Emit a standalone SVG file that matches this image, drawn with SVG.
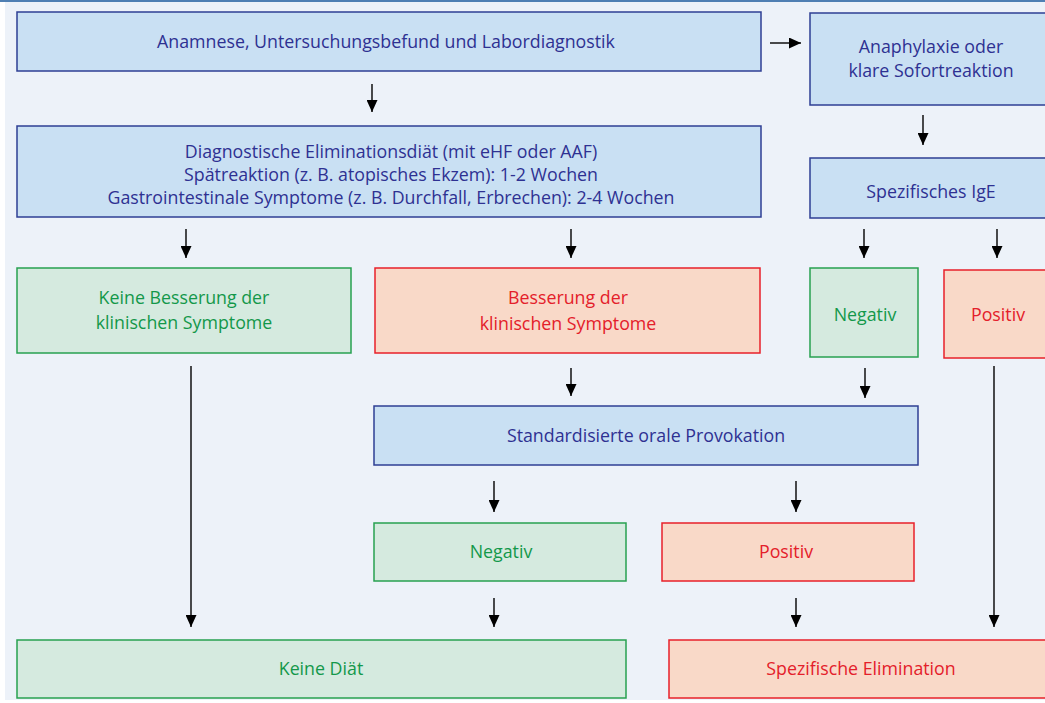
<svg xmlns="http://www.w3.org/2000/svg" width="1045" height="703" viewBox="0 0 1045 703">
<defs>
<marker id="ah" markerWidth="12" markerHeight="11" refX="12" refY="5.5" orient="auto" markerUnits="userSpaceOnUse" viewBox="0 0 12 11">
<path d="M0,0 L12,5.5 L0,11 Z" fill="#000"/>
</marker>
<style>
text{font-family:"Open Sans","Liberation Sans",sans-serif;font-size:17.8px;text-anchor:middle}
.b rect{fill:#c9e0f3;stroke:#2e3f94;stroke-width:1.5}
.b text{fill:#2e3192}
.g rect{fill:#d5eadf;stroke:#27a150;stroke-width:1.5}
.g text{fill:#13984a}
.r rect{fill:#f9d9c8;stroke:#e8202a;stroke-width:1.5}
.r text{fill:#e4202a}
.c line{stroke:#000;stroke-width:1.4;marker-end:url(#ah)}
</style>
</defs>
<rect x="0" y="0" width="1045" height="703" fill="#ffffff"/>
<rect x="5" y="2" width="1040" height="698" fill="#edf2f9"/>
<rect x="0" y="0" width="1045" height="2" fill="#4f7fb3"/>

<g id="n1" class="b"><rect x="17" y="12" width="744" height="59"/><text x="386" y="48">Anamnese, Untersuchungsbefund und Labordiagnostik</text></g>
<g id="n2" class="b"><rect x="810" y="13" width="240" height="92"/><text x="931" y="53">Anaphylaxie oder</text><text x="931" y="77">klare Sofortreaktion</text></g>
<g id="n3" class="b"><rect x="17" y="126" width="744" height="91"/><text x="391" y="158">Diagnostische Eliminationsdiät (mit eHF oder AAF)</text><text x="391" y="181">Spätreaktion (z. B. atopisches Ekzem): 1-2 Wochen</text><text x="391" y="204">Gastrointestinale Symptome (z. B. Durchfall, Erbrechen): 2-4 Wochen</text></g>
<g id="n4" class="b"><rect x="810" y="158" width="240" height="60"/><text x="931" y="198">Spezifisches IgE</text></g>
<g id="n5" class="g"><rect x="17" y="268" width="334" height="85"/><text x="184" y="304">Keine Besserung der</text><text x="184" y="329">klinischen Symptome</text></g>
<g id="n6" class="r"><rect x="375" y="268" width="385" height="85"/><text x="568" y="304">Besserung der</text><text x="568" y="330">klinischen Symptome</text></g>
<g id="n7" class="g"><rect x="810" y="268" width="108" height="89"/><text x="865" y="321">Negativ</text></g>
<g id="n8" class="r"><rect x="944" y="270" width="110" height="88"/><text x="998" y="321">Positiv</text></g>
<g id="n9" class="b"><rect x="374" y="406" width="544" height="59"/><text x="646" y="442">Standardisierte orale Provokation</text></g>
<g id="n10" class="g"><rect x="374" y="523" width="252" height="58"/><text x="501" y="558">Negativ</text></g>
<g id="n11" class="r"><rect x="662" y="523" width="252" height="58"/><text x="786" y="558">Positiv</text></g>
<g id="n12" class="g"><rect x="17" y="640" width="609" height="58"/><text x="321" y="675">Keine Diät</text></g>
<g id="n13" class="r"><rect x="669" y="640" width="390" height="58"/><text x="861" y="675">Spezifische Elimination</text></g>

<g id="connectors" class="c">
<line x1="770" y1="43" x2="801" y2="43"/>
<line x1="372" y1="84" x2="372" y2="112"/>
<line x1="923" y1="115" x2="923" y2="145"/>
<line x1="186" y1="229" x2="186" y2="258"/>
<line x1="571" y1="229" x2="571" y2="258"/>
<line x1="864" y1="229" x2="864" y2="258"/>
<line x1="997" y1="229" x2="997" y2="258"/>
<line x1="191" y1="366" x2="191" y2="627"/>
<line x1="994" y1="366" x2="994" y2="627"/>
<line x1="571" y1="368" x2="571" y2="396"/>
<line x1="865" y1="368" x2="865" y2="398"/>
<line x1="494" y1="481" x2="494" y2="512"/>
<line x1="796" y1="481" x2="796" y2="512"/>
<line x1="494" y1="598" x2="494" y2="627"/>
<line x1="796" y1="598" x2="796" y2="627"/>
</g>
</svg>
